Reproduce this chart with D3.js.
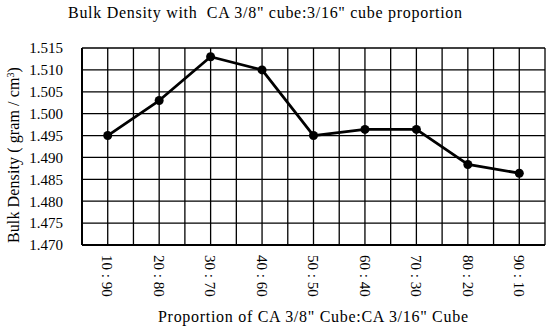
<!DOCTYPE html>
<html>
<head>
<meta charset="utf-8">
<script src="https://cdn.jsdelivr.net/npm/d3@7"></script>
<style>
  body { margin: 0; background: #fff; }
  text { font-family: "Liberation Serif", "DejaVu Serif", serif; fill: #000; }
</style>
</head>
<body>
<div id="chart"></div>
<script>
// chart data
var categories = ["10 : 90", "20 : 80", "30 : 70", "40 : 60", "50 : 50",
                  "60 : 40", "70 : 30", "80 : 20", "90 : 10"];
var density = [1.495, 1.503, 1.513, 1.510, 1.495, 1.4964, 1.4964, 1.4884, 1.4864];
var yTicks = [1.470, 1.475, 1.480, 1.485, 1.490, 1.495, 1.500, 1.505, 1.510, 1.515];

var serif = "'Liberation Serif', 'DejaVu Serif', serif";

var margin = {top: 48, bottom: 87, left: 82, right: 5},
  width = 550 - margin.left - margin.right,
  height = 332 - margin.top - margin.bottom;

var svg = d3.select("#chart")
    .append("svg")
    .attr("width", 550)
    .attr("height", 332);

var g = svg.append("g")
    .attr("transform", "translate(" + margin.left + "," + margin.top + ")");

var x = d3.scaleBand()
    .domain(categories)
    .range([0, width]);

var y = d3.scaleLinear()
    .domain([1.470, 1.515])
    .range([height, 0]);

// vertical grid: band edges and band centres
var vLines = [];
categories.forEach(function(c) {
  vLines.push(x(c));
  vLines.push(x(c) + x.bandwidth() / 2);
});
vLines.push(width);

g.selectAll(".vgrid")
    .data(vLines)
    .enter().append("line")
    .attr("x1", function(d) { return d; })
    .attr("x2", function(d) { return d; })
    .attr("y1", 0)
    .attr("y2", height)
    .attr("stroke", "#000")
    .attr("stroke-width", 1.3);

g.selectAll(".hgrid")
    .data(yTicks)
    .enter().append("line")
    .attr("x1", 0)
    .attr("x2", width)
    .attr("y1", function(d) { return y(d); })
    .attr("y2", function(d) { return y(d); })
    .attr("stroke", "#000")
    .attr("stroke-width", 1.3);

// heavier frame on left and bottom
g.append("line").attr("x1", 0).attr("x2", 0).attr("y1", 0).attr("y2", height)
    .attr("stroke", "#000").attr("stroke-width", 2);
g.append("line").attr("x1", 0).attr("x2", width).attr("y1", height).attr("y2", height)
    .attr("stroke", "#000").attr("stroke-width", 2);

// y axis labels
var yAxis = d3.axisLeft(y)
    .tickValues(yTicks)
    .tickFormat(d3.format(".3f"))
    .tickSize(0)
    .tickPadding(19);
var yg = g.append("g").call(yAxis)
    .attr("font-family", serif)
    .attr("font-size", 15);
yg.select(".domain").remove();

// x axis labels, rotated
var xAxis = d3.axisBottom(x).tickSize(0);
var xg = g.append("g")
    .attr("transform", "translate(0," + height + ")")
    .call(xAxis)
    .attr("font-family", serif)
    .attr("font-size", 15);
xg.select(".domain").remove();
xg.selectAll("text")
    .attr("text-anchor", "start")
    .attr("transform", "rotate(90)")
    .attr("x", 10)
    .attr("y", 0)
    .attr("dy", "0.35em");

// the line
var line = d3.line()
    .x(function(d, i) { return x(categories[i]) + x.bandwidth() / 2; })
    .y(function(d) { return y(d); });

g.append("path")
    .datum(density)
    .attr("d", line)
    .attr("fill", "none")
    .attr("stroke", "#000")
    .attr("stroke-width", 2.8)
    .attr("stroke-linejoin", "round");

g.selectAll(".dot")
    .data(density)
    .enter().append("circle")
    .attr("cx", function(d, i) { return x(categories[i]) + x.bandwidth() / 2; })
    .attr("cy", function(d) { return y(d); })
    .attr("r", 4.5)
    .attr("fill", "#000");

// titles
svg.append("text")
    .attr("x", 68)
    .attr("y", 18)
    .attr("textLength", 394)
    .attr("lengthAdjust", "spacing")
    .style("font-size", "16px")
    .style("white-space", "pre")
    .text("Bulk Density with  CA 3/8\" cube:3/16\" cube proportion");

svg.append("text")
    .attr("x", 158)
    .attr("y", 322)
    .attr("textLength", 310)
    .attr("lengthAdjust", "spacing")
    .style("font-size", "16px")
    .text("Proportion of CA 3/8\" Cube:CA 3/16\" Cube");

var yt = svg.append("text")
    .attr("transform", "translate(19,243) rotate(-90)")
    .style("font-size", "16px")
    .style("letter-spacing", "0.1px");
yt.append("tspan").text("Bulk Density ( gram / cm");
yt.append("tspan").attr("baseline-shift", "super").style("font-size", "10px").text("3");
yt.append("tspan").text(")");
</script>
</body>
</html>
